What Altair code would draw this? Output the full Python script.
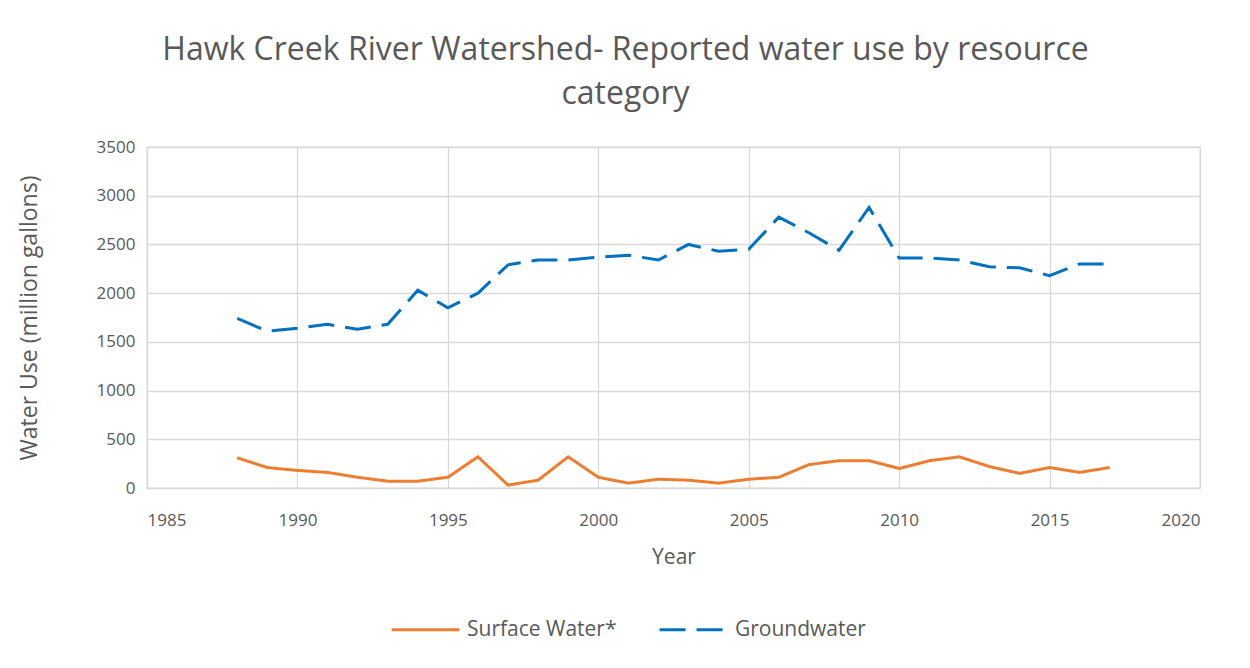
import altair as alt
import pandas as pd

years = list(range(1988, 2018))
surface = [310, 210, 180, 160, 110, 70, 70, 110, 320, 30, 80, 320, 110, 50, 90,
           80, 50, 90, 110, 240, 280, 280, 200, 280, 320, 220, 150, 210, 160, 210]
ground = [1740, 1610, 1640, 1680, 1630, 1680, 2030, 1850, 2000, 2290, 2340, 2340,
          2370, 2390, 2340, 2500, 2430, 2450, 2780, 2620, 2440, 2880, 2360, 2360,
          2340, 2270, 2260, 2180, 2300, 2300]
series = ["Surface Water*", "Groundwater"]
colors = ["#ED7D31", "#0070C0"]

df = pd.DataFrame({
    "Year": years * 2,
    "Value": surface + ground,
    "Series": [series[0]] * len(years) + [series[1]] * len(years),
})

FONT = "Open Sans"
GRAY = "#595959"
GRID = "#D9D9D9"

leg = alt.Legend(title=None, orient="none", direction="horizontal",
                 legendX=243, legendY=447, symbolType="stroke",
                 symbolSize=4600, symbolStrokeWidth=3, labelOffset=6,
                 columnPadding=36, labelFontSize=21)

lines = alt.Chart(df).mark_line(strokeWidth=3).encode(
    x=alt.X("Year:Q", scale=alt.Scale(domain=[1985, 2020], nice=False, zero=False),
            axis=alt.Axis(values=[1985, 1990, 1995, 2000, 2005, 2010, 2015, 2020],
                          format="d", title="Year", ticks=False, labelPadding=24,
                          titlePadding=18, titleFontSize=21, domainColor=GRID)),
    y=alt.Y("Value:Q", scale=alt.Scale(domain=[0, 3500], nice=False),
            axis=alt.Axis(values=list(range(0, 3501, 500)), format="d",
                          title="Water Use (million gallons)", titleFontSize=23,
                          ticks=False, labelPadding=12, titlePadding=55, domain=False)),
    color=alt.Color("Series:N", scale=alt.Scale(domain=series, range=colors),
                    sort=series, legend=leg),
    strokeDash=alt.StrokeDash("Series:N",
                              scale=alt.Scale(domain=series, range=[[1, 0], [26, 11]]),
                              sort=series, legend=leg),
)

chart = lines.properties(
    width=1053, height=341,
    background="white",
    title=alt.Title(["Hawk Creek River Watershed- Reported water use by resource", "category"],
                    fontSize=32, font=FONT, color=GRAY, fontWeight="normal",
                    anchor="middle", dx=-48, offset=27, lineHeight=44),
    padding={"left": 139, "top": 139, "right": 40, "bottom": 170},
    autosize=alt.AutoSizeParams(type="none"),
).configure_axis(
    labelFont=FONT, titleFont=FONT, labelColor=GRAY, titleColor=GRAY,
    labelFontSize=17, titleFontWeight="normal",
    gridColor=GRID, gridWidth=1.3,
).configure_legend(
    labelFont=FONT, labelColor=GRAY,
).configure_view(
    stroke=GRID, strokeWidth=1.3,
)

chart.save("out.html", embed_options={"renderer": "svg", "actions": False})
